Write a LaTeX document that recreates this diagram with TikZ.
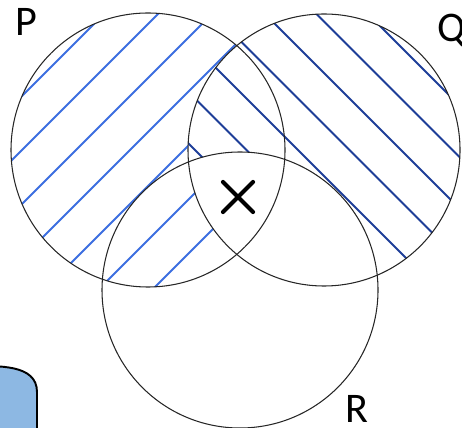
\documentclass[tikz,border=0pt]{standalone}
\usepackage{fontspec}
\setmainfont{Carlito}
\usepackage{tikz}
\usetikzlibrary{calc}
\definecolor{hatchlight}{RGB}{60, 110, 224}
\definecolor{hatchdark}{RGB}{30, 62, 152}
\definecolor{tabblue}{RGB}{141, 184, 227}

\begin{document}
\begin{tikzpicture}[
  x=0.02cm, y=-0.02cm,
  setline/.style={draw=black!85, line width=0.6pt},
  hatchP/.style={hatchlight, line width=1.1pt},
  hatchQ/.style={hatchdark, line width=1.1pt},
  setlabel/.style={font=\fontsize{24}{28}\selectfont, inner sep=0pt},
  crossmark/.style={line width=2.4pt, line cap=round}
]
  \useasboundingbox (0,0) rectangle (462,428);

  \coordinate (pc) at (148,150);
  \coordinate (qc) at (324,150);
  \coordinate (rc) at (240,290);

  % P without Q
  \begin{scope}[even odd rule]
    \clip (pc) circle[radius=137];
    \clip (-10,-10) rectangle (480,440) (qc) circle[radius=136];
    \foreach \c in {118,172,...,442}
      \draw[hatchP] ({\c+60},-60) -- ({\c-380},380);
  \end{scope}

  % Q without R
  \begin{scope}[even odd rule]
    \clip (qc) circle[radius=136];
    \clip (-10,-10) rectangle (480,440) (rc) circle[radius=138];
    \foreach \c in {-45,-96.5,...,-360}
      \draw[hatchQ] (120,{120+\c}) -- (520,{520+\c});
  \end{scope}

  \draw[setline] (pc) circle[radius=137];
  \draw[setline] (qc) circle[radius=136];
  \draw[setline] (rc) circle[radius=138];

  \node[setlabel] (lblP) at (26,22) {P};
  \node[setlabel] (lblQ) at (452,31) {Q};
  \node[setlabel] (lblR) at (357,409) {R};

  \coordinate (cross) at (238,197);
  \draw[crossmark] ($(cross)+(-15,-15)$) -- ($(cross)+(15,15)$);
  \draw[crossmark] ($(cross)+(-15,15)$) -- ($(cross)+(15,-15)$);

  % tab in the corner
  \begin{scope}
    \clip (0,0) rectangle (462,428);
    \draw[fill=tabblue, line width=1.1pt] (-30,366) to[out=0, in=90] (37,392) -- (37,440) -- (-30,440) -- cycle;
  \end{scope}
\end{tikzpicture}
\end{document}
